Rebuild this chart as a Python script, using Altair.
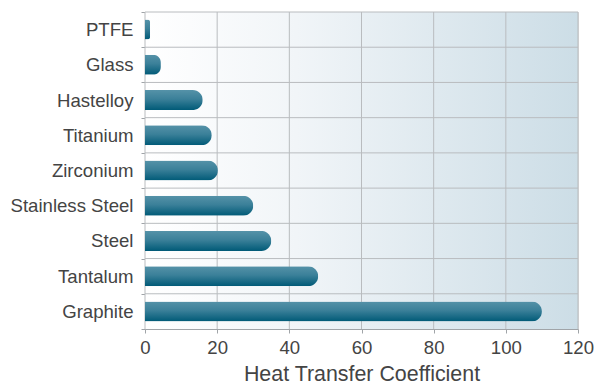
import altair as alt
import pandas as pd

materials = ["PTFE", "Glass", "Hastelloy", "Titanium", "Zirconium",
             "Stainless Steel", "Steel", "Tantalum", "Graphite"]
values = [1.4, 4.4, 16, 18.5, 20.2, 30, 35, 48, 110]
x_ticks = [0, 20, 40, 60, 80, 100, 120]

df = pd.DataFrame({"material": materials, "value": values})
ticks_df = pd.DataFrame({"t": x_ticks})

W, H = 433, 317
GRID = "#b9bcbf"

bg_grad = alt.Gradient(
    gradient="linear", x1=0, y1=0, x2=1, y2=0,
    stops=[alt.GradientStop(offset=0, color="#ffffff"),
           alt.GradientStop(offset=0.35, color="#f1f5f8"),
           alt.GradientStop(offset=1, color="#ccdde6")])

bar_grad = alt.Gradient(
    gradient="linear", x1=0, y1=0, x2=0, y2=1,
    stops=[alt.GradientStop(offset=0, color="#5592a8"),
           alt.GradientStop(offset=0.45, color="#3b8099"),
           alt.GradientStop(offset=1, color="#005a77")])

x_scale = alt.Scale(domain=[0, 120], nice=False)

x_axis = alt.Axis(values=x_ticks,
                  title="Heat Transfer Coefficient",
                  titleFontSize=21.4, titleFontWeight="normal",
                  titleColor="#444444", titlePadding=7,
                  labelFontSize=18.6, labelColor="#444444",
                  labelPadding=5, tickSize=4, grid=False, labelFlush=False,
                  domainColor="#a0a4a8", tickColor="#a0a4a8")
y_axis = alt.Axis(title=None, labelFontSize=18.6, labelColor="#444444",
                  labelPadding=8, tickSize=4, tickBand="extent", grid=False,
                  domainColor="#a0a4a8", tickColor="#a0a4a8")

bg = alt.Chart(pd.DataFrame({"a": [0]})).mark_rect(fill=bg_grad).encode(
    x=alt.value(0), x2=alt.value(W), y=alt.value(0), y2=alt.value(H))

vgrid = alt.Chart(ticks_df).mark_rule(color=GRID, strokeWidth=1).encode(
    x=alt.X("t:Q", scale=x_scale, axis=x_axis, title="Heat Transfer Coefficient"))

hgrid = alt.Chart(df).mark_rule(color=GRID, strokeWidth=1).encode(
    y=alt.Y("material:N", sort=materials, bandPosition=0, axis=y_axis))

bars = alt.Chart(df).mark_bar(fill=bar_grad, cornerRadiusEnd=10, size=20).encode(
    x=alt.X("value:Q", scale=x_scale, axis=x_axis, title="Heat Transfer Coefficient"),
    y=alt.Y("material:N", sort=materials, axis=y_axis),
)

chart = alt.layer(bg, vgrid, hgrid, bars).properties(
    width=W, height=H,
    autosize=alt.AutoSizeParams(type="none"),
    padding={"left": 145, "top": 12, "right": 21, "bottom": 56},
).configure_view(stroke=None).configure_axis(
    labelFont="Liberation Sans", titleFont="Liberation Sans"
).configure(background="#ffffff")

chart.save("out.html", embed_options={"renderer": "svg", "actions": False})
